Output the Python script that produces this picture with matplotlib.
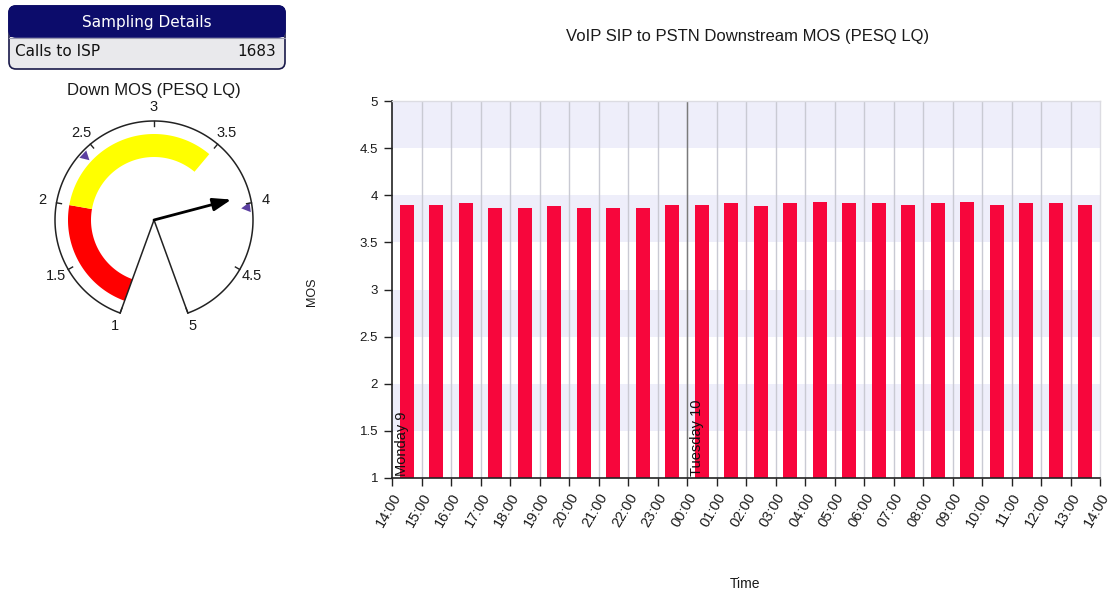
import numpy as np
import matplotlib
matplotlib.use("Agg")
import matplotlib.pyplot as plt
from matplotlib.patches import FancyBboxPatch, Polygon, Rectangle

plt.rcParams['font.family'] = ['Liberation Sans', 'DejaVu Sans']

# ---------------- data ----------------
hour_labels = ["14:00", "15:00", "16:00", "17:00", "18:00", "19:00", "20:00", "21:00",
               "22:00", "23:00", "00:00", "01:00", "02:00", "03:00", "04:00", "05:00",
               "06:00", "07:00", "08:00", "09:00", "10:00", "11:00", "12:00", "13:00", "14:00"]
mos_values = [3.90, 3.90, 3.92, 3.87, 3.87, 3.89, 3.87, 3.86, 3.87, 3.90,
              3.90, 3.92, 3.89, 3.92, 3.93, 3.92, 3.92, 3.90, 3.92, 3.93,
              3.90, 3.92, 3.92, 3.90]
day_labels = ["Monday 9", "Tuesday 10"]
day_starts = [0, 10]
y_ticks = [1, 1.5, 2, 2.5, 3, 3.5, 4, 4.5, 5]
y_tick_labels = ["1", "1.5", "2", "2.5", "3", "3.5", "4", "4.5", "5"]
bands = [(1.5, 2.0), (2.5, 3.0), (3.5, 4.0), (4.5, 5.0)]

gauge_value = 3.94
gauge_ticks = [1, 1.5, 2, 2.5, 3, 3.5, 4, 4.5, 5]
gauge_red = (1.0, 2.0)
gauge_yellow = (2.0, 3.5)
gauge_markers = [2.41, 4.03]
calls_to_isp = 1683

W, H = 1115, 605
fig = plt.figure(figsize=(W / 100, H / 100), dpi=100)
fig.patch.set_facecolor('white')
TXT = '#1a1a1a'

# ---------------- main chart ----------------
ax = fig.add_axes([392 / W, 1 - 478 / H, (1100 - 392) / W, (478 - 101) / H])
n = len(mos_values)
ax.set_xlim(0, n)
ax.set_ylim(1, 5)
for lo, hi in bands:
    ax.axhspan(lo, hi, color='#eeeefa', zorder=0, lw=0)
for i in range(1, n):
    ax.axvline(i, color='#c9cad3', lw=1, zorder=1)
for d in day_starts[1:]:
    ax.axvline(d, color='#7a7a7a', lw=1, zorder=1.5)
x = np.arange(n) + 0.5
ax.bar(x, np.array(mos_values) - 1, bottom=1, width=0.47, color='#f7063c', zorder=2)
for lab, d in zip(day_labels, day_starts):
    ax.text(d + 0.1, 1.02, lab, rotation=90, ha='left', va='bottom', fontsize=10.5,
            color='#111111', zorder=3)
ax.set_xticks(np.arange(n + 1))
ax.set_xticklabels(hour_labels, rotation=60, ha='right', va='top', rotation_mode='anchor',
                   fontsize=10.5, color=TXT)
ax.set_yticks(y_ticks)
ax.set_yticklabels(y_tick_labels, fontsize=9.5, color=TXT)
ax.tick_params(axis='both', direction='out', length=6, width=1, color='#222222', pad=4)
ax.tick_params(axis='x', pad=3)
for s in ['left', 'bottom']:
    ax.spines[s].set_color('#222222')
    ax.spines[s].set_linewidth(1.2)
for s in ['top', 'right']:
    ax.spines[s].set_color('#dcdce2')
    ax.spines[s].set_linewidth(1)
fig.text(748 / W, 1 - 36 / H, "VoIP SIP to PSTN Downstream MOS (PESQ LQ)", ha='center',
         va='center', fontsize=12, color=TXT)
fig.text(312 / W, 1 - 292 / H, "MOS", rotation=90, ha='center', va='center', fontsize=9,
         color=TXT)
fig.text(745 / W, 1 - 584 / H, "Time", ha='center', va='center', fontsize=10, color=TXT)

# ---------------- gauge ----------------
gx0, gx1, gy0, gy1 = 0, 300, 75, 345
gax = fig.add_axes([gx0 / W, 1 - gy1 / H, (gx1 - gx0) / W, (gy1 - gy0) / H])
gax.set_xlim(gx0, gx1)
gax.set_ylim(gy1, gy0)
gax.axis('off')
cx, cy, R = 154, 220, 99


def ang(v):
    return np.deg2rad(250 - (v - 1) * 80)


def pt(v, r):
    a = ang(v)
    return cx + r * np.cos(a), cy - r * np.sin(a)


for (lo, hi), col in [(gauge_red, '#ff0000'), (gauge_yellow, '#ffff00')]:
    ts = np.linspace(lo, hi, 100)
    outer = [pt(v, 86) for v in ts]
    inner = [pt(v, 63) for v in ts[::-1]]
    gax.add_patch(Polygon(outer + inner, closed=True, facecolor=col, edgecolor='none'))

ts = np.linspace(1, 5, 300)
arc = [pt(v, R) for v in ts]
outline = arc + [(cx, cy)]
gax.add_patch(Polygon(outline, closed=True, facecolor='none', edgecolor='#222222', lw=1.1))

for v in gauge_ticks:
    p1 = pt(v, R)
    p2 = pt(v, R - 5)
    gax.plot([p1[0], p2[0]], [p1[1], p2[1]], color='#222222', lw=1)
    lx, ly = pt(v, R + 14)
    gax.text(lx, ly, "%g" % v, ha='center', va='center', fontsize=10.5, color=TXT)

for v in gauge_markers:
    tip = pt(v, R - 11)
    a = ang(v)
    base = pt(v, R - 2)
    perp = np.array([np.sin(a), np.cos(a)])
    b1 = (base[0] + 5 * perp[0], base[1] + 5 * perp[1])
    b2 = (base[0] - 5 * perp[0], base[1] - 5 * perp[1])
    gax.add_patch(Polygon([tip, b1, b2], closed=True, facecolor='#5b3fa0', edgecolor='none'))

nx, ny = pt(gauge_value, 80)
gax.annotate('', xy=(nx, ny), xytext=(cx, cy),
             arrowprops=dict(arrowstyle='-|>,head_length=1.0,head_width=0.35', color='black',
                             lw=2, shrinkA=0, shrinkB=0, mutation_scale=11))
gax.text(154, 90, "Down MOS (PESQ LQ)", ha='center', va='center', fontsize=12, color=TXT)

# ---------------- sampling details box ----------------
bax = fig.add_axes([0, 1 - 80 / H, 300 / W, 80 / H])
bax.set_xlim(0, 300)
bax.set_ylim(80, 0)
bax.axis('off')
bax.add_patch(FancyBboxPatch((9, 6), 276, 63, boxstyle='round,pad=0,rounding_size=7',
                             facecolor='#e9e9ec', edgecolor='#1a1a4a', lw=1.2))
bax.add_patch(FancyBboxPatch((9, 6), 276, 31, boxstyle='round,pad=0,rounding_size=7',
                             facecolor='#0c0c6b', edgecolor='#0c0c6b', lw=1.2))
bax.add_patch(Rectangle((9.6, 28), 274.8, 9, facecolor='#0c0c6b', edgecolor='none'))
bax.plot([9, 285], [37.5, 37.5], color='#9a9ab0', lw=0.8)
bax.text(147, 22, "Sampling Details", ha='center', va='center', fontsize=11,
         color='white', family=['DejaVu Sans'])
bax.text(15, 52, "Calls to ISP", ha='left', va='center', fontsize=11, color='#111111',
         family=['DejaVu Sans'])
bax.text(276, 52, str(calls_to_isp), ha='right', va='center', fontsize=11, color='#111111',
         family=['DejaVu Sans'])

fig.savefig('out.png', dpi=100)
